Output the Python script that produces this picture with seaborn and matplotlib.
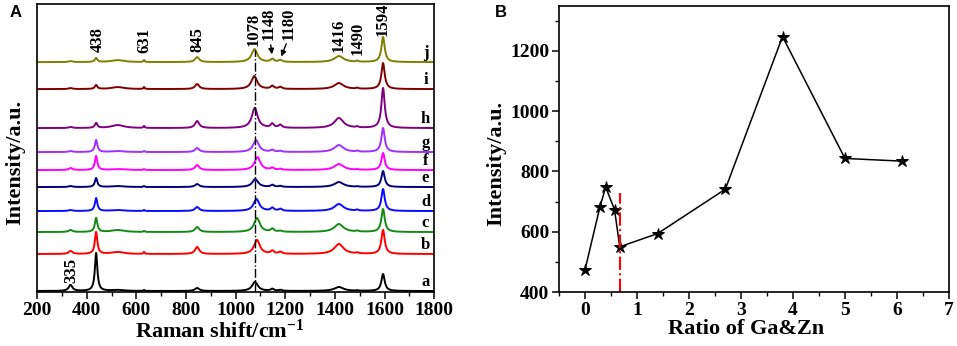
import numpy as np
import pandas as pd
import matplotlib
matplotlib.use("Agg")
import matplotlib.pyplot as plt
from matplotlib.ticker import MultipleLocator
import seaborn as sns

# ---- Panel A: Raman spectra (peak table) ----
sample_names = ['a', 'b', 'c', 'd', 'e', 'f', 'g', 'h', 'i', 'j']
sample_colors = ['#000000', '#ff0000', '#148a14', '#0a0aff', '#00007a',
                 '#ff00ff', '#a030ff', '#800080', '#800000', '#808000']
baseline = [1, 38, 60, 81, 105, 122, 140, 164, 203, 230]

peak_pos = [335, 438, 525, 631, 845, 1078, 1148, 1180, 1416, 1490, 1594]
peak_width = [9, 6, 30, 3, 10, 14, 8, 8, 22, 5, 8]
band_1078 = [1078, 1086, 1086, 1084, 1079, 1088, 1082, 1077, 1075, 1076]

# heights per sample, same order as peak_pos
h_a = [6, 38, 1, 1, 3, 9, 2, 1, 4, 0.5, 17]
h_b = [3, 22, 2, 2, 7, 14, 3, 2, 10, 1, 24]
h_c = [2, 14, 2, 1, 5, 14, 3, 1, 8, 1, 23]
h_d = [1, 13, 1, 1, 4, 12, 3, 2, 7, 1, 22]
h_e = [1, 9, 1, 1, 3, 8, 2, 1, 5, 0.5, 16]
h_f = [2, 14, 1, 1, 5, 13, 2, 1, 6, 0.5, 17]
h_g = [1, 12, 1, 1, 4, 12, 2, 1, 7, 1, 24]
h_h = [1, 5, 3, 2, 7, 20, 4, 3, 10, 1, 40]
h_i = [1, 4, 2, 2, 5, 13, 3, 2, 6, 1, 26]
h_j = [1, 4, 2, 2, 5, 13, 3, 2, 6, 1, 25]
heights = [h_a, h_b, h_c, h_d, h_e, h_f, h_g, h_h, h_i, h_j]

label_peaks = [438, 631, 845, 1078, 1148, 1180, 1416, 1490, 1594]
label_x = [443, 631, 847, 1071, 1133, 1212, 1416, 1492, 1594]
label_y = [240, 239, 240, 246, 252, 252, 240, 237, 256]

# ---- Panel B ----
ratio = [0.0, 0.29, 0.40, 0.57, 0.67, 1.40, 2.70, 3.80, 5.00, 6.10]
intensity = [472, 683, 748, 673, 550, 594, 741, 1247, 843, 834]

plt.rcParams['font.family'] = ['Liberation Serif', 'DejaVu Serif']
plt.rcParams['font.weight'] = 'bold'
plt.rcParams['mathtext.default'] = 'regular'

shift = np.arange(200, 1801, 1.0)
rows = []
for name, base, hs, c1078 in zip(sample_names, baseline, heights, band_1078):
    y = np.full_like(shift, float(base))
    for p, w, h in zip(peak_pos, peak_width, hs):
        if p == 1078:
            p = c1078
        y += h / (1 + ((shift - p) / w) ** 2)
    rows.append(pd.DataFrame({'shift': shift, 'y': y, 'sample': name}))
spec = pd.concat(rows, ignore_index=True)

fig = plt.figure(figsize=(9.57, 3.46), dpi=100)
axA = fig.add_axes([0.0387, 0.156, 0.415, 0.832])
axB = fig.add_axes([0.584, 0.156, 0.4076, 0.828])

sns.lineplot(data=spec, x='shift', y='y', hue='sample', palette=sample_colors,
             estimator=None, sort=False, legend=False, linewidth=1.4, ax=axA)
axA.plot([1078, 1078], [0, 242], color='black', ls='-.', lw=1)
axA.set_xlim(200, 1800)
axA.set_ylim(0, 288)
axA.set_yticks([])
axA.xaxis.set_major_locator(MultipleLocator(200))
axA.xaxis.set_minor_locator(MultipleLocator(100))
axA.set_xlabel('Raman shift/cm$^{-1}$', fontsize=16, fontweight='bold')
axA.set_ylabel('Intensity/a.u.', fontsize=16, fontweight='bold')
axA.xaxis.set_label_coords(0.46, -0.095)
axA.yaxis.set_label_coords(-0.03, 0.45)

lab_kw = dict(fontsize=12, fontweight='bold')
for name, base in zip(sample_names, baseline):
    axA.text(1765, base + 9, name, ha='center', va='center', **lab_kw)
for p, lx, ly in zip(label_peaks, label_x, label_y):
    axA.text(lx, ly, str(p), rotation=90, ha='center', va='bottom', **lab_kw)
axA.annotate('', xy=(1148, 235), xytext=(1140, 250),
             arrowprops=dict(arrowstyle='-|>', color='black', lw=1, mutation_scale=8))
axA.annotate('', xy=(1180, 233), xytext=(1208, 251),
             arrowprops=dict(arrowstyle='-|>', color='black', lw=1, mutation_scale=8))
axA.text(337, 9, '335', rotation=90, ha='center', va='bottom', **lab_kw)

sns.lineplot(x=ratio, y=intensity, color='black', marker='*', markersize=9,
             markeredgecolor='black', linewidth=1.1, ax=axB)
axB.plot([0.67, 0.67], [400, 730], color='red', ls='-.', lw=1.5)
axB.set_xlim(-0.5, 7)
axB.set_ylim(400, 1350)
axB.xaxis.set_major_locator(MultipleLocator(1))
axB.xaxis.set_minor_locator(MultipleLocator(0.5))
axB.yaxis.set_major_locator(MultipleLocator(200))
axB.yaxis.set_minor_locator(MultipleLocator(100))
axB.set_xlabel('Ratio of Ga&Zn', fontsize=16, fontweight='bold')
axB.set_ylabel('Intensity/a.u.', fontsize=16, fontweight='bold')
axB.xaxis.set_label_coords(0.48, -0.095)
axB.yaxis.set_label_coords(-0.135, 0.45)

for ax in (axA, axB):
    for s in ax.spines.values():
        s.set_linewidth(1.2)
    ax.tick_params(which='major', direction='out', length=5, width=1.1,
                   labelsize=14, pad=2, top=False, right=False)
    ax.tick_params(which='minor', direction='out', length=3, width=1, top=False, right=False)
    for lab in ax.get_xticklabels() + ax.get_yticklabels():
        lab.set_fontweight('bold')

fig.text(0.010, 0.965, 'A', fontsize=12, fontweight='bold', family='Liberation Sans', va='center')
fig.text(0.517, 0.965, 'B', fontsize=12, fontweight='bold', family='Liberation Sans', va='center')

fig.savefig('out.png', dpi=100, facecolor='white')
